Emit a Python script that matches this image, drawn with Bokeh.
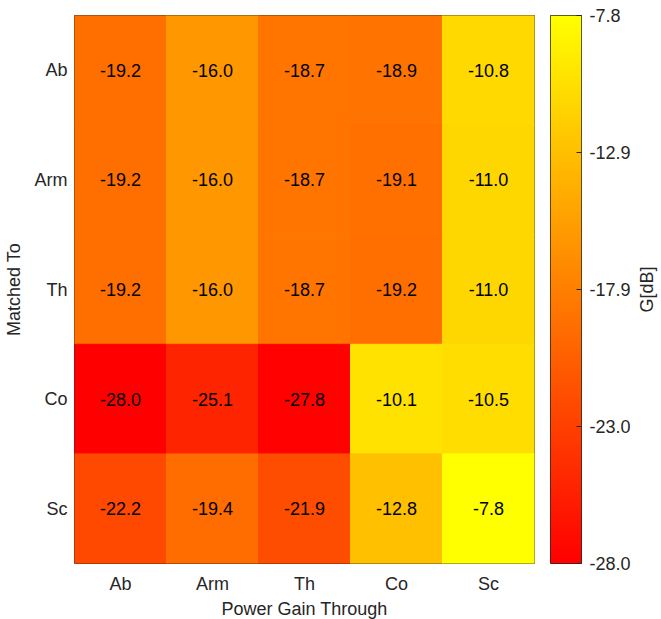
import numpy as np
from bokeh.plotting import figure
from bokeh.models import (ColumnDataSource, FactorRange, Range1d, LinearColorMapper,
                          FixedTicker, LinearAxis)
from bokeh.transform import linear_cmap
from bokeh.core.properties import value
from bokeh.layouts import row
from bokeh.embed import file_html
from bokeh.resources import INLINE

# ---- data ----
x_cats = ["Ab", "Arm", "Th", "Co", "Sc"]          # Power Gain Through
y_cats = ["Ab", "Arm", "Th", "Co", "Sc"]          # Matched To (top to bottom)
row_Ab = [-19.2, -16.0, -18.7, -18.9, -10.8]
row_Arm = [-19.2, -16.0, -18.7, -19.1, -11.0]
row_Th = [-19.2, -16.0, -18.7, -19.2, -11.0]
row_Co = [-28.0, -25.1, -27.8, -10.1, -10.5]
row_Sc = [-22.2, -19.4, -21.9, -12.8, -7.8]
rows = [row_Ab, row_Arm, row_Th, row_Co, row_Sc]
cb_ticks = [-28.0, -22.95, -17.9, -12.85, -7.8]
cb_tick_labels = ["-28.0", "-23.0", "-17.9", "-12.9", "-7.8"]
vmin, vmax = -28.0, -7.8

FONT = "Liberation Sans"
FS = "18px"
TXT = "#262626"
palette = ["#ff%02x00" % g for g in range(256)]  # autumn colormap

xs, ys, vs, labs = [], [], [], []
for yc, r in zip(y_cats, rows):
    for xc, v in zip(x_cats, r):
        xs.append(xc); ys.append(yc); vs.append(v); labs.append("%.1f" % v)
src = ColumnDataSource(dict(x=xs, y=ys, v=vs, lab=labs))

p = figure(x_range=FactorRange(*x_cats), y_range=FactorRange(*y_cats[::-1]),
           frame_width=460, frame_height=548, output_backend="svg",
           toolbar_location=None, min_border_left=73, min_border_top=15,
           min_border_bottom=56, min_border_right=16)
cmap = linear_cmap("v", palette, vmin, vmax)
p.rect("x", "y", 1, 1, source=src, line_color=cmap, line_width=1, fill_color=cmap)
p.text("x", "y", text="lab", source=src, text_align="center", text_baseline="middle",
       text_font=value(FONT), text_font_size=FS, text_color="black")
p.grid.visible = False
p.outline_line_color = TXT
p.outline_line_width = 1
for ax in (p.xaxis[0], p.yaxis[0]):
    ax.axis_line_color = None
    ax.major_tick_line_color = None
    ax.minor_tick_line_color = None
    ax.major_tick_out = 0
    ax.major_tick_in = 0
    ax.major_label_text_font = FONT
    ax.major_label_text_font_size = FS
    ax.major_label_text_color = TXT
    ax.axis_label_text_font = FONT
    ax.axis_label_text_font_size = FS
    ax.axis_label_text_font_style = "normal"
    ax.axis_label_text_color = TXT
p.xaxis.axis_label = "Power Gain Through"
p.yaxis.axis_label = "Matched To"
p.xaxis.major_label_standoff = 10
p.xaxis.axis_label_standoff = 2
p.yaxis.major_label_standoff = 7
p.yaxis.axis_label_standoff = 8

# ---- colorbar figure ----
mapper = LinearColorMapper(palette=palette, low=vmin, high=vmax)
c = figure(x_range=Range1d(0, 1), y_range=Range1d(vmin, vmax),
           frame_width=31, frame_height=548, output_backend="svg",
           toolbar_location=None, min_border_left=0, min_border_top=15,
           min_border_bottom=56, min_border_right=37, y_axis_location=None,
           x_axis_location=None)
grad = np.linspace(vmin, vmax, 256).reshape(256, 1)
c.image(image=[grad], x=0, y=vmin, dw=1, dh=vmax - vmin, color_mapper=mapper)
c.grid.visible = False
c.outline_line_color = TXT
ax = LinearAxis(ticker=FixedTicker(ticks=cb_ticks),
                major_label_overrides={t: l for t, l in zip(cb_ticks, cb_tick_labels)})
ax.axis_line_color = None
ax.major_tick_in = 5
ax.major_tick_out = 0
ax.major_tick_line_color = TXT
ax.minor_tick_line_color = None
ax.major_label_standoff = 8
ax.major_label_text_font = FONT
ax.major_label_text_font_size = FS
ax.major_label_text_color = TXT
c.add_layout(ax, "right")

# ---- colorbar label (left axis label of a blank strip) ----
t = figure(x_range=Range1d(0, 1), y_range=Range1d(vmin, vmax),
           frame_width=10, frame_height=548, output_backend="svg",
           toolbar_location=None, min_border_left=0, min_border_top=15,
           min_border_bottom=56, min_border_right=0, y_axis_location=None,
           x_axis_location=None)
t.outline_line_color = None
t.grid.visible = False
lab_ax = LinearAxis(ticker=FixedTicker(ticks=[]), axis_label="G[dB]")
lab_ax.axis_line_color = None
lab_ax.major_tick_in = 0
lab_ax.major_tick_out = 0
lab_ax.minor_tick_line_color = None
lab_ax.major_label_standoff = 0
lab_ax.axis_label_standoff = 0
lab_ax.axis_label_text_font = FONT
lab_ax.axis_label_text_font_size = FS
lab_ax.axis_label_text_font_style = "normal"
lab_ax.axis_label_text_color = TXT
t.add_layout(lab_ax, "left")

layout = row(p, c, t)
open("out.html", "w").write(file_html(layout, INLINE))
